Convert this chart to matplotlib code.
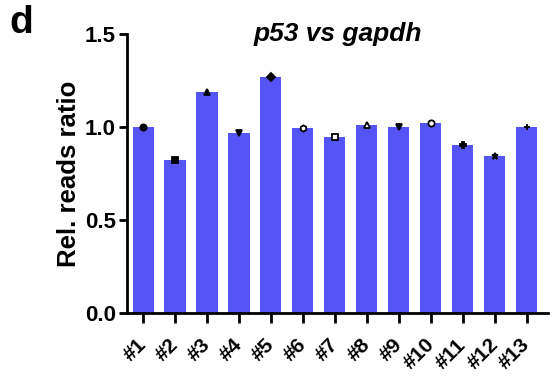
import numpy as np
import matplotlib
matplotlib.use("Agg")
import matplotlib.pyplot as plt
import matplotlib.transforms as mtransforms

plt.rcParams['font.family'] = ['Liberation Sans', 'DejaVu Sans']
plt.rcParams['font.weight'] = 'bold'

# data
samples = ['#1', '#2', '#3', '#4', '#5', '#6', '#7', '#8', '#9', '#10', '#11', '#12', '#13']
ratios = [1.00, 0.82, 1.19, 0.965, 1.27, 0.995, 0.945, 1.01, 1.00, 1.02, 0.905, 0.845, 1.00]
markers = ['o', 's', '^', 'v', 'D', 'h', 's', '^', 'v', 'o', 'P', '*', '+']
filled = [True, True, True, True, True, False, False, False, True, False, True, True, True]

fig = plt.figure(figsize=(5.55, 3.82), dpi=100)
ax = fig.add_axes([0.229, 0.181, 0.758, 0.730])

x = np.arange(len(samples))
ax.bar(x, ratios, width=0.66, color='#5555f5', zorder=1)

for xi, yi, m, f in zip(x, ratios, markers, filled):
    ax.plot(xi, yi, marker=m, markersize=4.5,
            markerfacecolor='black' if f else 'white',
            markeredgecolor='black', markeredgewidth=1.3,
            linestyle='none', zorder=3)

ax.set_xlim(-0.5, 12.66)
ax.set_ylim(0, 1.5)
ax.set_yticks([0.0, 0.5, 1.0, 1.5])
ax.set_yticklabels(['0.0', '0.5', '1.0', '1.5'])
ax.set_xticks(x)
ax.set_xticklabels(samples, rotation=45, ha='right', va='top')

for s in ['top', 'right']:
    ax.spines[s].set_visible(False)
for s in ['left', 'bottom']:
    ax.spines[s].set_linewidth(2)
ax.tick_params(axis='y', width=2, length=6, labelsize=16, pad=2)
ax.tick_params(axis='x', width=2, length=7, labelsize=15, pad=9)

# shift the rotated x labels a little to the right, as in the original
shift = mtransforms.ScaledTranslation(7 / 100, 0, fig.dpi_scale_trans)
for lab in ax.get_xticklabels():
    lab.set_transform(lab.get_transform() + shift)
for lab in ax.get_xticklabels() + ax.get_yticklabels():
    lab.set_fontweight('bold')

ax.set_ylabel('Rel. reads ratio', fontsize=18.5, fontweight='bold', labelpad=3)
fig.text(338 / 555, 1 - 41 / 382, 'p53 vs gapdh', fontsize=19, fontweight='bold',
         style='italic', ha='center', va='baseline')
fig.text(0.016, 1 - 33 / 382, 'd', fontsize=28, fontweight='bold', va='baseline')

fig.savefig('out.png', dpi=100)
